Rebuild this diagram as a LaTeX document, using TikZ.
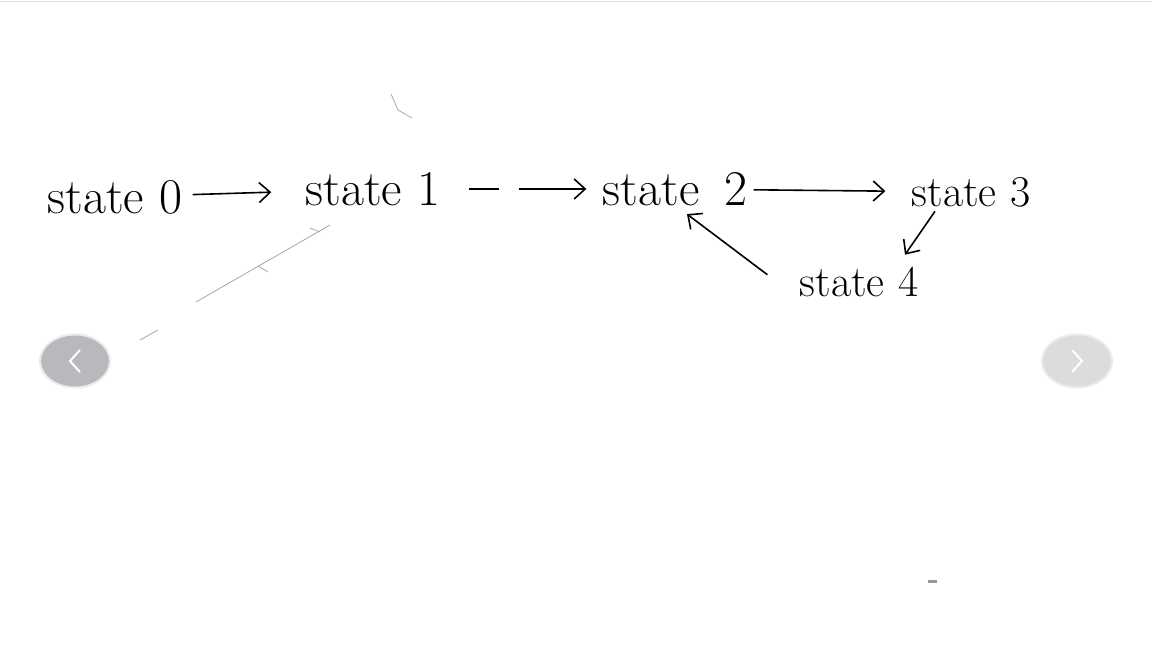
\documentclass[tikz,border=0pt]{standalone}
\usepackage{tikz}
\usetikzlibrary{arrows.meta,calc,positioning,shapes.geometric}
\usepackage{xcolor}

\definecolor{navdark}{HTML}{B9B9BD}
\definecolor{navlight}{HTML}{DCDCDE}
\definecolor{pencil}{HTML}{A8A8A8}

\tikzset{
  statenode/.style={inner sep=1pt, font=\fontsize{25}{28}\selectfont},
  smallstate/.style={statenode, font=\fontsize{22}{26}\selectfont},
  hand/.style={line width=0.8pt, -{Straight Barb[length=5.5pt,width=10pt]}},
  navbtn/.style={ellipse, minimum width=35pt, minimum height=26.5pt, draw=white!92!black, line width=1pt},
}

\begin{document}
\begin{tikzpicture}[x=0.5pt, y=-0.5pt]
  \useasboundingbox[fill=white] (0,0) rectangle (1152,648);
  \draw[gray!25] (0,1) -- (1152,1);
  % faint pencil strokes
  \draw[pencil, line width=0.4pt] (140,340) -- (158,330) (196,302) -- (330,225);
  \draw[pencil, line width=0.4pt] (258,266) -- (268,272) (310,228) -- (320,232);
  \draw[pencil, line width=0.4pt] (391,94) -- (398,110) -- (412,118);
  \fill[gray!80] (928,580) rectangle (937,583);
  % states
  \node[statenode] (s0) at (115,197) {state 0};
  \node[statenode] (s1) at (373,189) {state 1};
  \node[statenode] (s2) at (675,189) {state\enspace 2};
  \node[smallstate] (s3) at (971,192) {state 3};
  \node[smallstate] (s4) at (859,282) {state 4};
  % transitions
  \draw[hand, shorten <=4pt, shorten >=16pt] (s0) -- (s1);
  \draw[hand, shorten <=13pt, shorten >=7pt, dash pattern=on 15pt off 10pt on 40pt off 0pt] (s1) -- (s2);
  \draw[hand, shorten <=2pt, shorten >=12pt] (s2) -- (s3);
  \draw[hand] ($(s3.south)+(-36,2)$) -- ($(s4.north)+(46,-10)$);
  \draw[hand] ($(s4.north west)+(-30,10)$) -- ($(s2.south)+(12,6)$);
  % carousel buttons
  \node[navbtn, fill=navdark] (prev) at (75,361) {};
  \node[navbtn, fill=navlight] (next) at (1077,361) {};
  \draw[white, line width=1pt] ($(prev)+(5,-11)$) -- ($(prev)+(-5,0)$) -- ($(prev)+(5,11)$);
  \draw[white, line width=1pt] ($(next)+(-5,-11)$) -- ($(next)+(5,0)$) -- ($(next)+(-5,11)$);
\end{tikzpicture}
\end{document}
